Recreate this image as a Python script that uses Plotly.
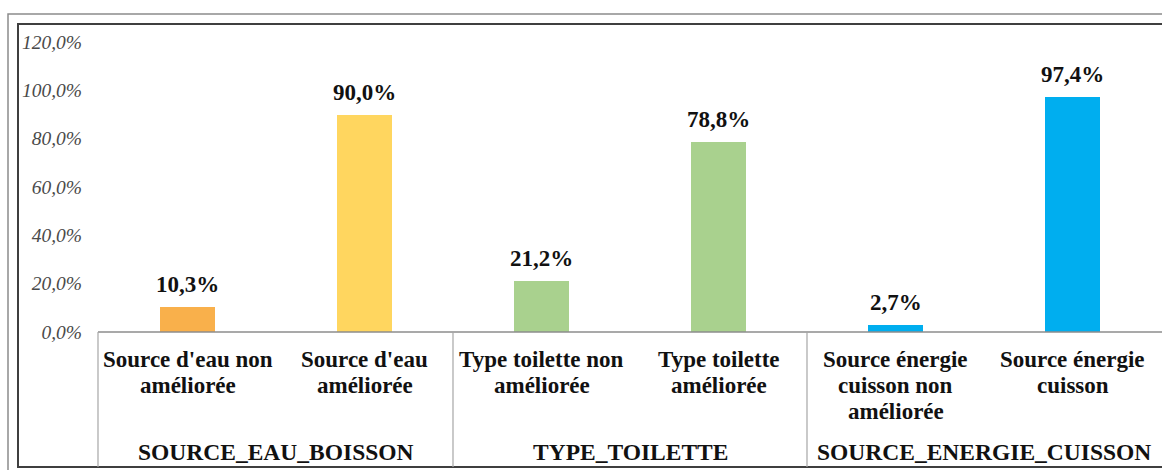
import plotly.graph_objects as go

# Household amenity indicators, share of households
categories = [
    "Source d'eau non<br>améliorée",
    "Source d'eau<br>améliorée",
    "Type toilette non<br>améliorée",
    "Type toilette<br>améliorée",
    "Source énergie<br>cuisson non<br>améliorée",
    "Source énergie<br>cuisson",
]
values = [0.103, 0.900, 0.212, 0.788, 0.027, 0.974]
bar_colors = ["#F9B04B", "#FFD65F", "#A9D18E", "#A9D18E", "#00AEEF", "#00AEEF"]
groups = ["SOURCE_EAU_BOISSON", "TYPE_TOILETTE", "SOURCE_ENERGIE_CUISSON"]
y_ticks = [0, 0.2, 0.4, 0.6, 0.8, 1.0, 1.2]

W, H = 1162, 470
L, R_EDGE, T, B = 99, 1161, 42, 332  # plot area in pixels

def px(x):
    return (x - L) / (R_EDGE - L)

def py(y):
    return (B - y) / (B - T)

x_idx = list(range(len(categories)))
serif = "Liberation Serif"
line_col = "#A6A6A6"

fig = go.Figure(
    go.Bar(
        x=x_idx,
        y=values,
        width=0.31,
        marker=dict(color=bar_colors, line=dict(width=0)),
        hoverinfo="skip",
    )
)

shapes = [
    # outer frames
    dict(type="rect", xref="paper", yref="paper",
         x0=px(8), x1=px(1180), y0=py(476), y1=py(14),
         line=dict(color="#8C8C8C", width=1.5)),
    dict(type="rect", xref="paper", yref="paper",
         x0=px(18), x1=px(1172), y0=py(467), y1=py(24),
         line=dict(color="#3F3F3F", width=2)),
    # category table
    dict(type="line", xref="paper", yref="paper",
         x0=px(98), x1=px(1172), y0=0, y1=0,
         line=dict(color="#8C8C8C", width=1.5)),
    dict(type="line", xref="paper", yref="paper",
         x0=px(98), x1=px(98), y0=0, y1=py(467),
         line=dict(color=line_col, width=1.2)),
]
# group separators between pairs of categories
for k in (1.5, 3.5):
    shapes.append(dict(type="line", xref="x", yref="paper",
                       x0=k, x1=k, y0=0, y1=py(467),
                       line=dict(color=line_col, width=1.2)))

annotations = []
# value labels above bars
for i, v in enumerate(values):
    annotations.append(dict(
        x=i, xref="x", y=v, yref="y", yanchor="bottom", yshift=8,
        text="<b>%s%%</b>" % ("%.1f" % (v * 100)).replace(".", ","),
        showarrow=False,
        font=dict(family=serif, size=23, color="#111111"),
    ))
# category labels, one annotation per text line
for i, c in enumerate(categories):
    for j, part in enumerate(c.split("<br>")):
        annotations.append(dict(
            x=i, xref="x", y=py(359 + 26 * j), yref="paper", yanchor="middle",
            text="<b>%s</b>" % part, showarrow=False,
            font=dict(family=serif, size=23, color="#111111"),
        ))
for g, gname in enumerate(groups):
    annotations.append(dict(
        x=2 * g + 0.5, xref="x", y=py(452), yref="paper", yanchor="middle",
        text="<b>%s</b>" % gname, showarrow=False,
        font=dict(family=serif, size=23.5, color="#111111"),
    ))

fig.update_layout(
    width=W, height=H,
    margin=dict(l=L, r=W - R_EDGE, t=T, b=H - B, pad=0),
    paper_bgcolor="white", plot_bgcolor="white",
    separators=",.",
    showlegend=False,
    bargap=0,
    xaxis=dict(range=[-0.5, 5.5], showticklabels=False, showgrid=False,
               zeroline=False, showline=False, ticks=""),
    yaxis=dict(range=[0, 1.2], tickvals=y_ticks, tickformat=".1%",
               showgrid=False, zeroline=False, showline=False,
               ticks="", ticklabelstandoff=16,
               tickfont=dict(family=serif, size=19.5, color="#4A4A4A",
                             style="italic")),
    shapes=shapes,
    annotations=annotations,
)

fig.write_html("out.html")
